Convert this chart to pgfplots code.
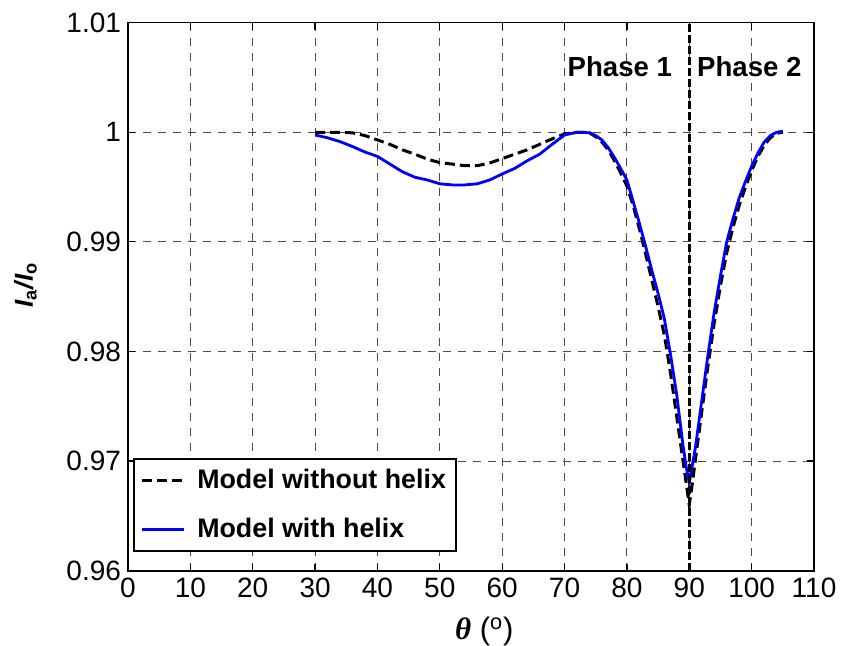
\documentclass[border=0pt]{standalone}
\usepackage{pgfplots}
\pgfplotsset{compat=1.18}
\usepackage{fontspec}
\setmainfont{Liberation Sans}
\newfontfamily\greekfont{Liberation Serif}

\begin{document}
\begin{tikzpicture}
\begin{axis}[
  scale only axis, width=343bp, height=274bp,
  xmin=0, xmax=110, ymin=0.96, ymax=1.01,
  xtick={0,10,20,30,40,50,60,70,80,90,100,110},
  ytick={0.96,0.97,0.98,0.99,1,1.01},
  yticklabels={0.96,0.97,0.98,0.99,1,1.01},
  xticklabels={0,10,20,30,40,50,60,70,80,90,100,110},
  tick align=inside, tick pos=both,
  major tick length=3.5bp,
  grid=major,
  major grid style={dash pattern=on 4bp off 3.5bp, black!70, line width=0.45bp},
  axis line style={line width=0.8bp},
  tick style={black, line width=0.6bp},
  ticklabel style={font=\fontsize{14bp}{16bp}\selectfont},
  /pgf/number format/assume math mode=true,
  xlabel={\textbf{\textit{\greekfont θ}} (\textsuperscript{o})},
  xlabel style={at={(axis description cs:0.4665,-0.1264)}, anchor=base west, font=\fontsize{15.5bp}{17bp}\selectfont},
  ylabel={\textbf{\textit{I}\textsubscript{a}\textit{/I}\textsubscript{o}}},
  ylabel style={at={(axis description cs:-0.1385,0.4666)}, anchor=base west, font=\fontsize{13bp}{15bp}\selectfont},
  legend style={at={(rel axis cs:0.008,0.035)}, anchor=south west,
    font=\bfseries\fontsize{13.4bp}{15bp}\selectfont,
    draw=black, line width=0.8bp, inner xsep=3bp, inner ysep=3bp, row sep=9.5bp, column sep=4bp,
    nodes={inner sep=2bp}},
  legend cell align=left,
  legend image code/.code={\draw[#1] (0bp,0bp) -- (21bp,0bp);},
]
\addplot[black, line width=1.5bp, dash pattern=on 5bp off 2.5bp] coordinates {
(30,1.0000)(32,1.0000)(34,1.0000)(36,0.99995)(38,0.9997)(40,0.9993)(42,0.9989)
(44,0.9984)(46,0.9980)(48,0.99755)(50,0.99723)(52,0.9971)(54,0.99695)(56,0.99695)
(58,0.9972)(60,0.9976)(62,0.9980)(64,0.9984)(66,0.9989)(68,0.9994)(70,0.99985)
(72,1.0000)(73,1.0000)(74,0.99995)(75,0.9996)(76,0.9991)(77,0.9984)(78,0.9974)
(79,0.9963)(80,0.9951)(81,0.9933)(82,0.9912)(83,0.9889)(84,0.9865)(85,0.9841)
(86,0.9815)(87,0.9780)(88,0.9740)(89,0.9700)(89.5,0.9680)(90,0.9660)
(90.5,0.9680)(91,0.9702)(92,0.9745)(93,0.9787)(94,0.9826)(95,0.9860)(96,0.9890)
(97,0.9913)(98,0.9933)(99,0.9950)(100,0.9965)(101,0.9978)(102,0.9988)(103,0.9995)
(104,0.9999)(105,1.0000)};
\addlegendentry{Model without helix}
\addplot[blue, line width=1.4bp] coordinates {
(30,0.99975)(32,0.9995)(34,0.99915)(36,0.9987)(38,0.9982)(40,0.9978)(42,0.9971)
(44,0.9964)(46,0.9959)(48,0.99565)(50,0.9953)(52,0.9952)(54,0.9952)(56,0.9953)
(58,0.99565)(60,0.9962)(62,0.9967)(64,0.9974)(66,0.9980)(68,0.9989)(70,0.99975)
(72,1.0000)(73,1.0000)(74,0.99995)(75,0.9997)(76,0.9993)(77,0.9986)(78,0.9977)
(79,0.9967)(80,0.99565)(81,0.9937)(82,0.9917)(83,0.9896)(84,0.9874)(85,0.9853)
(86,0.9830)(87,0.9797)(88,0.9760)(89,0.9714)(89.5,0.9695)(90,0.9680)
(91,0.9713)(92,0.9755)(93,0.9797)(94,0.9836)(95,0.9869)(96,0.9900)(97,0.9921)
(98,0.9940)(99,0.9955)(100,0.9969)(101,0.9981)(102,0.9991)(103,0.9997)
(104,1.0000)(105,1.0001)};
\addlegendentry{Model with helix}
\addplot[black, line width=1.5bp, dash pattern=on 4bp off 1.5bp, forget plot] coordinates {(90,0.96)(90,1.01)};
\node[anchor=east, inner sep=0pt, font=\bfseries\fontsize{13.8bp}{15bp}\selectfont] at (axis cs:87.3,1.006) {Phase 1};
\node[anchor=west, inner sep=0pt, font=\bfseries\fontsize{13.8bp}{15bp}\selectfont] at (axis cs:91.2,1.006) {Phase 2};
\coordinate (sw) at (rel axis cs:0,0);
\coordinate (ne) at (rel axis cs:1,1);
\end{axis}
\pgfresetboundingbox
\path ([shift={(-64bp,-37.65bp)}]sw) rectangle ([shift={(13.5bp,11.35bp)}]ne);
\end{tikzpicture}
\end{document}
